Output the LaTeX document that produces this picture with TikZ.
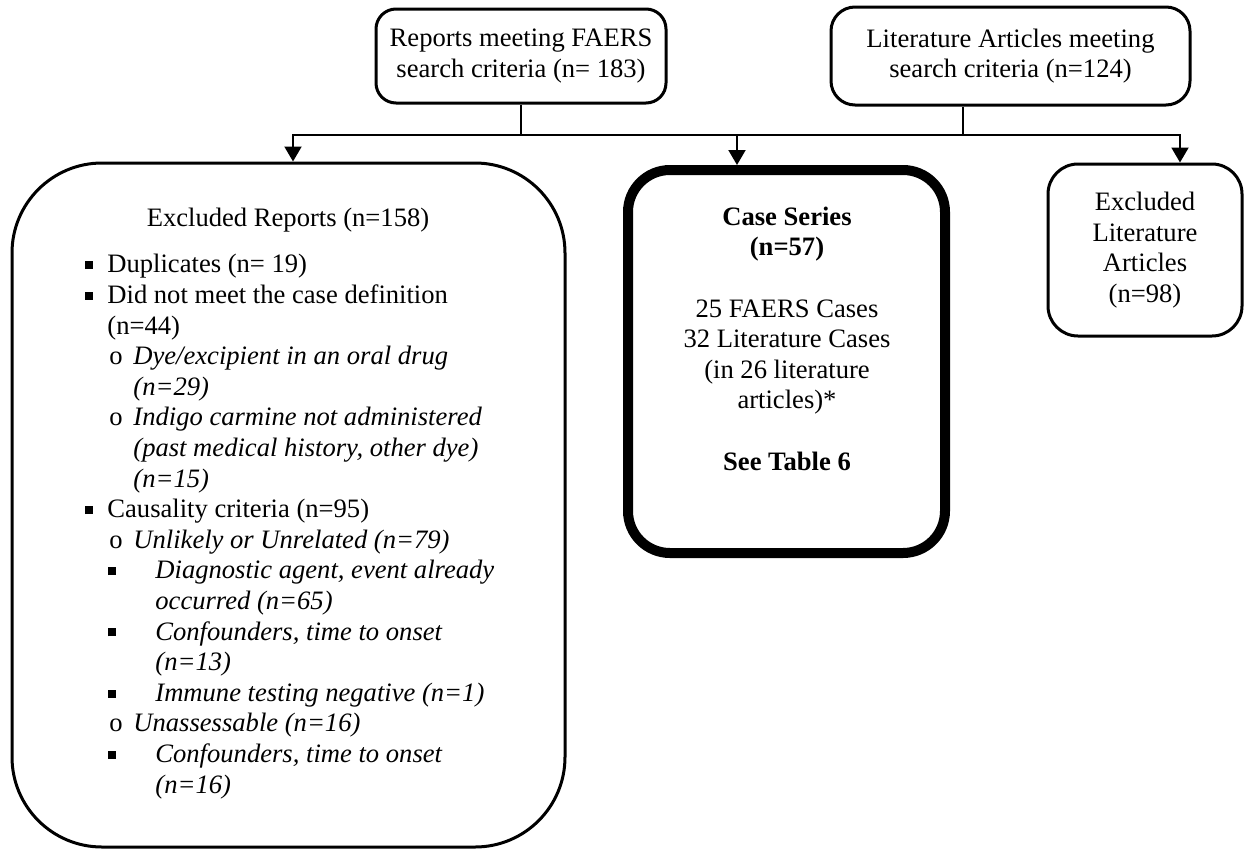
\documentclass[tikz,border=0pt]{standalone}
\usepackage{fontspec}
\setmainfont{Liberation Serif}
\usetikzlibrary{arrows.meta}

% list markers for the exclusion box
\newcommand{\sqbul}{\rule[1.8pt]{4pt}{4pt}}
\newcommand{\lvla}[1]{\makebox[11pt][l]{\sqbul}#1}
\newcommand{\lvlb}[1]{\hspace*{12pt}\makebox[12pt][l]{o}\textit{#1}}
\newcommand{\lvlc}[1]{\hspace*{11.5pt}\makebox[23.5pt][l]{\sqbul}\textit{#1}}
\newcommand{\contln}[2]{\hspace*{#1}#2}

\tikzset{
  box/.style={draw, line width=1.5pt, rounded corners=10pt, align=center, inner sep=0pt},
  conn/.style={line width=1pt},
  arr/.style={conn, -{Triangle[width=8.5pt,length=7.5pt]}},
  txt/.style={inner sep=0pt, align=center},
  listtxt/.style={inner sep=0pt, align=left}
}

\begin{document}
\begin{tikzpicture}[x=0.5pt, y=-0.5pt, font=\fontsize{13.3}{15.3}\selectfont]
  \useasboundingbox (0,0) rectangle (1248,852);

  % sources
  \node[box, minimum width=145pt, minimum height=47pt] (faers) at (521,56)
    {Reports meeting FAERS\\search criteria (n= 183)};
  \node[box, rounded corners=12pt, minimum width=179.5pt, minimum height=49pt] (lit) at (1010.5,56)
    {Literature Articles meeting\\search criteria (n=124)};

  % outcomes
  \node[box, rounded corners=45pt, minimum width=276.5pt, minimum height=342pt] (exrep) at (288.5,505) {};
  \node[box, line width=5pt, rounded corners=21pt, minimum width=158.5pt, minimum height=191.5pt] (caseser) at (786.5,361.5) {};
  \node[box, rounded corners=15pt, minimum width=97pt, minimum height=86pt] (exlit) at (1145,250)
    {Excluded\\Literature\\Articles\\(n=98)};

  % texts of the large boxes (base = last line)
  \node[txt, anchor=base] (exreptitle) at (288,226) {Excluded Reports (n=158)};
  \node[listtxt, anchor=base west] (exlist) at (85,793) {%
    \lvla{Duplicates (n= 19)}\\
    \lvla{Did not meet the case definition}\\
    \contln{11pt}{(n=44)}\\
    \lvlb{Dye/excipient in an oral drug}\\
    \contln{24pt}{\textit{(n=29)}}\\
    \lvlb{Indigo carmine not administered}\\
    \contln{24pt}{\textit{(past medical history, other dye)}}\\
    \contln{24pt}{\textit{(n=15)}}\\
    \lvla{Causality criteria (n=95)}\\
    \lvlb{Unlikely or Unrelated (n=79)}\\
    \lvlc{Diagnostic agent, event already}\\
    \contln{35pt}{\textit{occurred (n=65)}}\\
    \lvlc{Confounders, time to onset}\\
    \contln{35pt}{\textit{(n=13)}}\\
    \lvlc{Immune testing negative (n=1)}\\
    \lvlb{Unassessable (n=16)}\\
    \lvlc{Confounders, time to onset}\\
    \contln{35pt}{\textit{(n=16)}}};
  \node[txt, anchor=base] (castxt) at (787,470) {%
    \textbf{Case Series}\\
    \textbf{(n=57)}\\[\baselineskip]
    25 FAERS Cases\\
    32 Literature Cases\\
    (in 26 literature\\
    articles)*\\[\baselineskip]
    \textbf{See Table 6}};

  % connectors
  \coordinate (busL) at (293,135);
  \coordinate (busM) at (737,135);
  \coordinate (busR) at (1180,135);
  \coordinate (litdrop) at (963,135);
  \draw[arr] (faers.south) |- (busL) -- (busL |- exrep.north);
  \draw[arr] (faers.south |- busL) -- (busR) -- (busR |- exlit.north);
  \draw[arr] (busM) -- (busM |- caseser.north);
  \draw[conn] (litdrop |- lit.south) -- (litdrop);
\end{tikzpicture}
\end{document}
